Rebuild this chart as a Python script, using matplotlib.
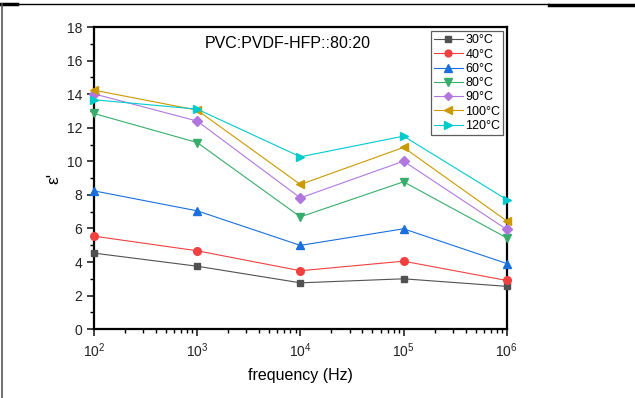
import matplotlib
matplotlib.use('Agg')
import matplotlib.pyplot as plt
from matplotlib.lines import Line2D
from matplotlib.ticker import MultipleLocator, LogLocator, NullFormatter

plt.rcParams['font.family'] = ['Liberation Sans', 'DejaVu Sans']

freq = [1e2, 1e3, 1e4, 1e5, 1e6]
labels = ['30°C', '40°C', '60°C', '80°C', '90°C', '100°C', '120°C']
eps_30 = [4.53, 3.75, 2.76, 3.00, 2.55]
eps_40 = [5.54, 4.67, 3.48, 4.05, 2.90]
eps_60 = [8.24, 7.05, 4.99, 5.98, 3.91]
eps_80 = [12.85, 11.12, 6.69, 8.78, 5.44]
eps_90 = [14.02, 12.40, 7.82, 10.01, 5.94]
eps_100 = [14.24, 13.05, 8.62, 10.83, 6.45]
eps_120 = [13.67, 13.11, 10.27, 11.50, 7.72]

series = [eps_30, eps_40, eps_60, eps_80, eps_90, eps_100, eps_120]
colors = ['#515151', '#F14040', '#1A6FDF', '#37AD6B', '#B177DE', '#CC9900', '#00CBCC']
markers = ['s', 'o', '^', 'v', 'D', '<', '>']
msizes = [5, 5.5, 6, 6, 4.8, 6, 6]

fig = plt.figure(figsize=(6.35, 3.98), dpi=100)
ax = fig.add_axes([0.148, 0.173, 0.650, 0.759])

for vals, lab, c, m, ms in zip(series, labels, colors, markers, msizes):
    ax.plot(freq, vals, color=c, marker=m, markersize=ms, lw=0.8, label=lab,
            clip_on=False, zorder=3)

ax.set_xscale('log')
ax.set_xlim(1e2, 1e6)
ax.set_ylim(0, 18)
ax.yaxis.set_major_locator(MultipleLocator(2))
ax.yaxis.set_minor_locator(MultipleLocator(1))
ax.xaxis.set_minor_locator(LogLocator(base=10, subs=range(2, 10)))
ax.xaxis.set_minor_formatter(NullFormatter())
ax.tick_params(which='major', direction='out', length=5, width=1.2, labelsize=10, colors='#222222')
ax.tick_params(which='minor', direction='out', length=3, width=1)
for s in ax.spines.values():
    s.set_linewidth(1.6)

ax.set_xlabel('frequency (Hz)', fontsize=11.5, labelpad=6)
ax.set_ylabel("ε'", fontsize=12.5, labelpad=4)
ax.text(0.268, 0.972, 'PVC:PVDF-HFP::80:20', transform=ax.transAxes,
        fontsize=11.5, va='top', ha='left')

leg = ax.legend(loc='upper right', bbox_to_anchor=(0.995, 0.99), fontsize=9,
                frameon=True, fancybox=False, edgecolor='#333333',
                handlelength=2.3, labelspacing=0.18, borderpad=0.25,
                handletextpad=0.2, borderaxespad=0.1, markerscale=0.9)
leg.get_frame().set_linewidth(0.9)

# page frame lines from the source scan
fig.add_artist(Line2D([0.0, 0.865], [0.99, 0.99], color='black', lw=1.0))
fig.add_artist(Line2D([0.865, 1.0], [0.988, 0.988], color='black', lw=2.5))
fig.add_artist(Line2D([0.0, 0.027], [0.989, 0.989], color='black', lw=2.5))
fig.add_artist(Line2D([0.003, 0.003], [0.0, 0.99], color='#555555', lw=1.2))

fig.savefig('out.png', dpi=100)
